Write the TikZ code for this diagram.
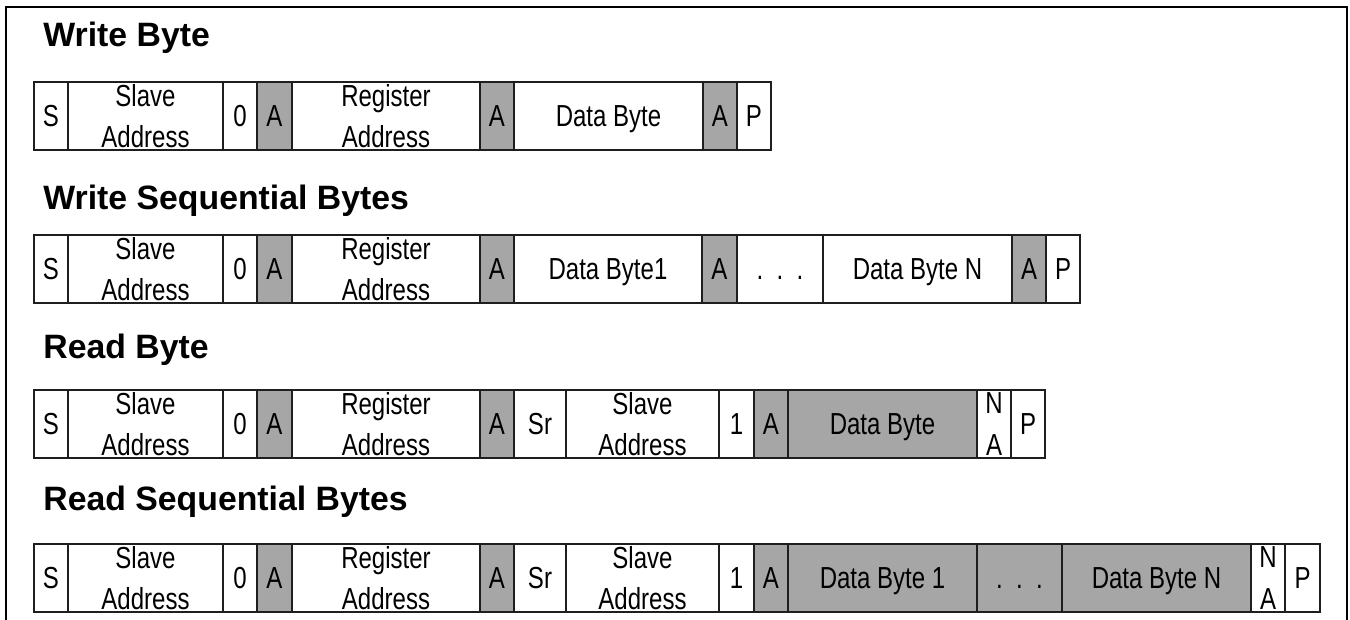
\documentclass[tikz,border=0pt]{standalone}
\usepackage{fontspec}
\setmainfont{Liberation Sans}
\newfontfamily\cellfont[FakeStretch=0.79]{Liberation Sans}
\definecolor{cgray}{RGB}{166,166,166}
\definecolor{cline}{RGB}{30,30,30}
\newcommand\twol[2]{\vbox{\baselineskip=20.6pt\lineskiplimit=-20pt\halign{\hfil##\hfil\cr #1\cr #2\cr}}}
\tikzset{
  cell/.style={draw=cline, line width=0.75pt, inner sep=0pt, outer sep=0pt,
    minimum height=34pt, anchor=north west,
    font=\cellfont\fontsize{15.2}{20.6}\selectfont},
  one/.style={text height=10.9pt, text depth=0pt},
  cw/.style={minimum width=#1*0.5pt},
  g/.style={fill=cgray},
  ttl/.style={anchor=base west, inner sep=0pt, font=\bfseries\fontsize{16.9}{20}\selectfont}
}
\begin{document}
\begin{tikzpicture}[x=0.5pt,y=-0.5pt]
\useasboundingbox (0,0) rectangle (1350,620);
\draw[line width=1pt] (6,660) -- (6,7) -- (1347,7) -- (1347,660);

% Write Byte
\node[ttl] (t1) at (43,47) {Write Byte};
\node[cell,one,cw=34] (a1) at (34,82) {S};
\node[cell,cw=155] (a2) at (a1.north east) {\twol{Slave}{Address}};
\node[cell,one,cw=34] (a3) at (a2.north east) {0};
\node[cell,one,g,cw=35] (a4) at (a3.north east) {A};
\node[cell,cw=188] (a5) at (a4.north east) {\twol{Register}{Address}};
\node[cell,one,g,cw=34] (a6) at (a5.north east) {A};
\node[cell,one,cw=189] (a7) at (a6.north east) {Data Byte};
\node[cell,one,g,cw=34] (a8) at (a7.north east) {A};
\node[cell,one,cw=34] (a9) at (a8.north east) {P};

% Write Sequential Bytes
\node[ttl] (t2) at (43,210) {Write Sequential Bytes};
\node[cell,one,cw=34] (b1) at (34,235) {S};
\node[cell,cw=155] (b2) at (b1.north east) {\twol{Slave}{Address}};
\node[cell,one,cw=34] (b3) at (b2.north east) {0};
\node[cell,one,g,cw=35] (b4) at (b3.north east) {A};
\node[cell,cw=188] (b5) at (b4.north east) {\twol{Register}{Address}};
\node[cell,one,g,cw=34] (b6) at (b5.north east) {A};
\node[cell,one,cw=188] (b7) at (b6.north east) {Data Byte1};
\node[cell,one,g,cw=35] (b8) at (b7.north east) {A};
\node[cell,one,cw=86] (b9) at (b8.north east) {.\ \ .\ \ .};
\node[cell,one,cw=189] (b10) at (b9.north east) {Data Byte N};
\node[cell,one,g,cw=34] (b11) at (b10.north east) {A};
\node[cell,one,cw=34] (b12) at (b11.north east) {P};

% Read Byte
\node[ttl] (t3) at (43,358) {Read Byte};
\node[cell,one,cw=34] (c1) at (34,390) {S};
\node[cell,cw=155] (c2) at (c1.north east) {\twol{Slave}{Address}};
\node[cell,one,cw=34] (c3) at (c2.north east) {0};
\node[cell,one,g,cw=35] (c4) at (c3.north east) {A};
\node[cell,cw=188] (c5) at (c4.north east) {\twol{Register}{Address}};
\node[cell,one,g,cw=34] (c6) at (c5.north east) {A};
\node[cell,one,cw=52] (c7) at (c6.north east) {Sr};
\node[cell,cw=153] (c8) at (c7.north east) {\twol{Slave}{Address}};
\node[cell,one,cw=35] (c9) at (c8.north east) {1};
\node[cell,one,g,cw=34] (c10) at (c9.north east) {A};
\node[cell,one,g,cw=189] (c11) at (c10.north east) {Data Byte};
\node[cell,cw=34] (c12) at (c11.north east) {\twol{N}{A}};
\node[cell,one,cw=34] (c13) at (c12.north east) {P};

% Read Sequential Bytes
\node[ttl] (t4) at (43,510) {Read Sequential Bytes};
\node[cell,one,cw=34] (d1) at (34,544) {S};
\node[cell,cw=155] (d2) at (d1.north east) {\twol{Slave}{Address}};
\node[cell,one,cw=34] (d3) at (d2.north east) {0};
\node[cell,one,g,cw=35] (d4) at (d3.north east) {A};
\node[cell,cw=188] (d5) at (d4.north east) {\twol{Register}{Address}};
\node[cell,one,g,cw=34] (d6) at (d5.north east) {A};
\node[cell,one,cw=52] (d7) at (d6.north east) {Sr};
\node[cell,cw=153] (d8) at (d7.north east) {\twol{Slave}{Address}};
\node[cell,one,cw=35] (d9) at (d8.north east) {1};
\node[cell,one,g,cw=34] (d10) at (d9.north east) {A};
\node[cell,one,g,cw=189] (d11) at (d10.north east) {Data Byte 1};
\node[cell,one,g,cw=85] (d12) at (d11.north east) {.\ \ .\ \ .};
\node[cell,one,g,cw=189] (d13) at (d12.north east) {Data Byte N};
\node[cell,cw=34] (d14) at (d13.north east) {\twol{N}{A}};
\node[cell,one,cw=35] (d15) at (d14.north east) {P};
\end{tikzpicture}
\end{document}
